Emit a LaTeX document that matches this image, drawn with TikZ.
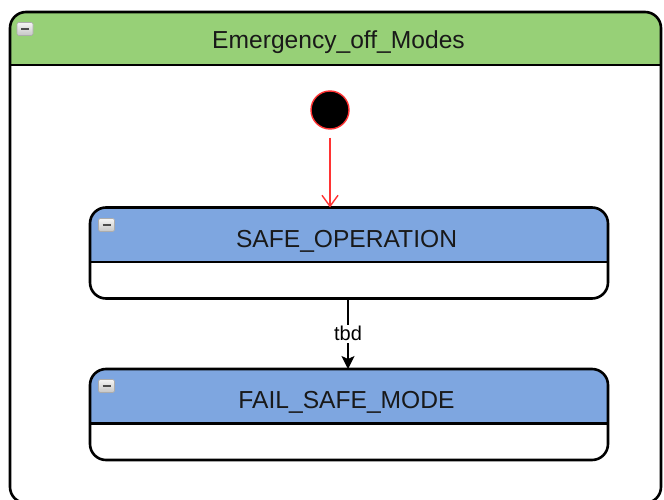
\documentclass[tikz,border=0pt]{standalone}
\usepackage{fontspec}
\setmainfont{Liberation Sans}
\usetikzlibrary{arrows.meta,calc}

\definecolor{hdrgreen}{HTML}{97D077}
\definecolor{hdrblue}{HTML}{7EA6E0}
\definecolor{initred}{HTML}{FF3333}

\tikzset{
  frame/.style={inner sep=0pt, outer sep=0pt},
  border/.style={line width=2.6pt, rounded corners=16pt},
  divider/.style={line width=2.6pt},
  title/.style={anchor=base, inner sep=0pt, font=\fontsize{24.6}{29}\selectfont, text=black!90},
  collapse/.style={top color=gray!8, bottom color=gray!45, draw=gray!65, line width=0.6pt, rounded corners=1.5pt},
  minusbar/.style={line width=2pt, draw=black!70},
  initarrow/.style={draw=initred, line width=1.4pt, -{Straight Barb[length=11pt,width=16pt,line width=1.4pt]}},
  trans/.style={draw=black, line width=1.4pt, -{Stealth[length=13pt,width=13pt,inset=3pt]}},
  guard/.style={fill=white, inner sep=1.5pt, font=\fontsize{20}{24}\selectfont}
}

% draws the collapse button whose top-left corner is at #1
\newcommand{\collapsebtn}[1]{%
  \shade[collapse] (#1) rectangle ++(16,13);
  \draw[minusbar] ($(#1)+(4,6.5)$) -- ++(8,0);
}

\begin{document}
\begin{tikzpicture}[x=1pt, y=-1pt]
  \clip (0,0) rectangle (664,500);
  \fill[white] (0,0) rectangle (664,500);

  % ---- outer composite state ----
  \node[frame, anchor=north west, minimum width=651pt, minimum height=491pt] (modes) at (10,12) {};
  \coordinate (modesdiv) at (10,65);
  \fill[hdrgreen, rounded corners=16pt] (modesdiv) -- (modes.north west) -- (modes.north east) [sharp corners] -- (modes.east |- modesdiv) -- cycle;
  \draw[border] (modes.north west) rectangle (modes.south east);
  \draw[divider] (modesdiv) -- (modes.east |- modesdiv);
  \node[title] (modestitle) at (338.5,49) {Emergency\_off\_Modes};
  \collapsebtn{17,22.5}

  % ---- initial pseudostate ----
  \node[circle, fill=black, draw=initred, line width=1.4pt, minimum size=38pt, inner sep=0pt] (init) at (330,110) {};

  % ---- SAFE_OPERATION ----
  \node[frame, anchor=north west, minimum width=518pt, minimum height=91pt] (safe) at (90,207.5) {};
  \coordinate (safediv) at (90,262);
  \fill[hdrblue, rounded corners=16pt] (safediv) -- (safe.north west) -- (safe.north east) [sharp corners] -- (safe.east |- safediv) -- cycle;
  \draw[border] (safe.north west) rectangle (safe.south east);
  \draw[divider] (safediv) -- (safe.east |- safediv);
  \node[title] (safetitle) at (346.5,247.5) {SAFE\_OPERATION};
  \collapsebtn{98.5,218.5}

  % ---- FAIL_SAFE_MODE ----
  \node[frame, anchor=north west, minimum width=518pt, minimum height=91pt] (fail) at (90,369) {};
  \coordinate (faildiv) at (90,423.5);
  \fill[hdrblue, rounded corners=16pt] (faildiv) -- (fail.north west) -- (fail.north east) [sharp corners] -- (fail.east |- faildiv) -- cycle;
  \draw[border] (fail.north west) rectangle (fail.south east);
  \draw[divider] (faildiv) -- (fail.east |- faildiv);
  \node[title] (failtitle) at (346.5,408) {FAIL\_SAFE\_MODE};
  \collapsebtn{98.5,379.5}

  % ---- transitions ----
  \draw[initarrow, shorten <=8pt] (init.south) -- (init.south |- safe.north);
  \draw[trans] ([xshift=-1pt]safe.south) -- node[guard] (tbd) {tbd} ([xshift=-1pt]fail.north);
\end{tikzpicture}
\end{document}
